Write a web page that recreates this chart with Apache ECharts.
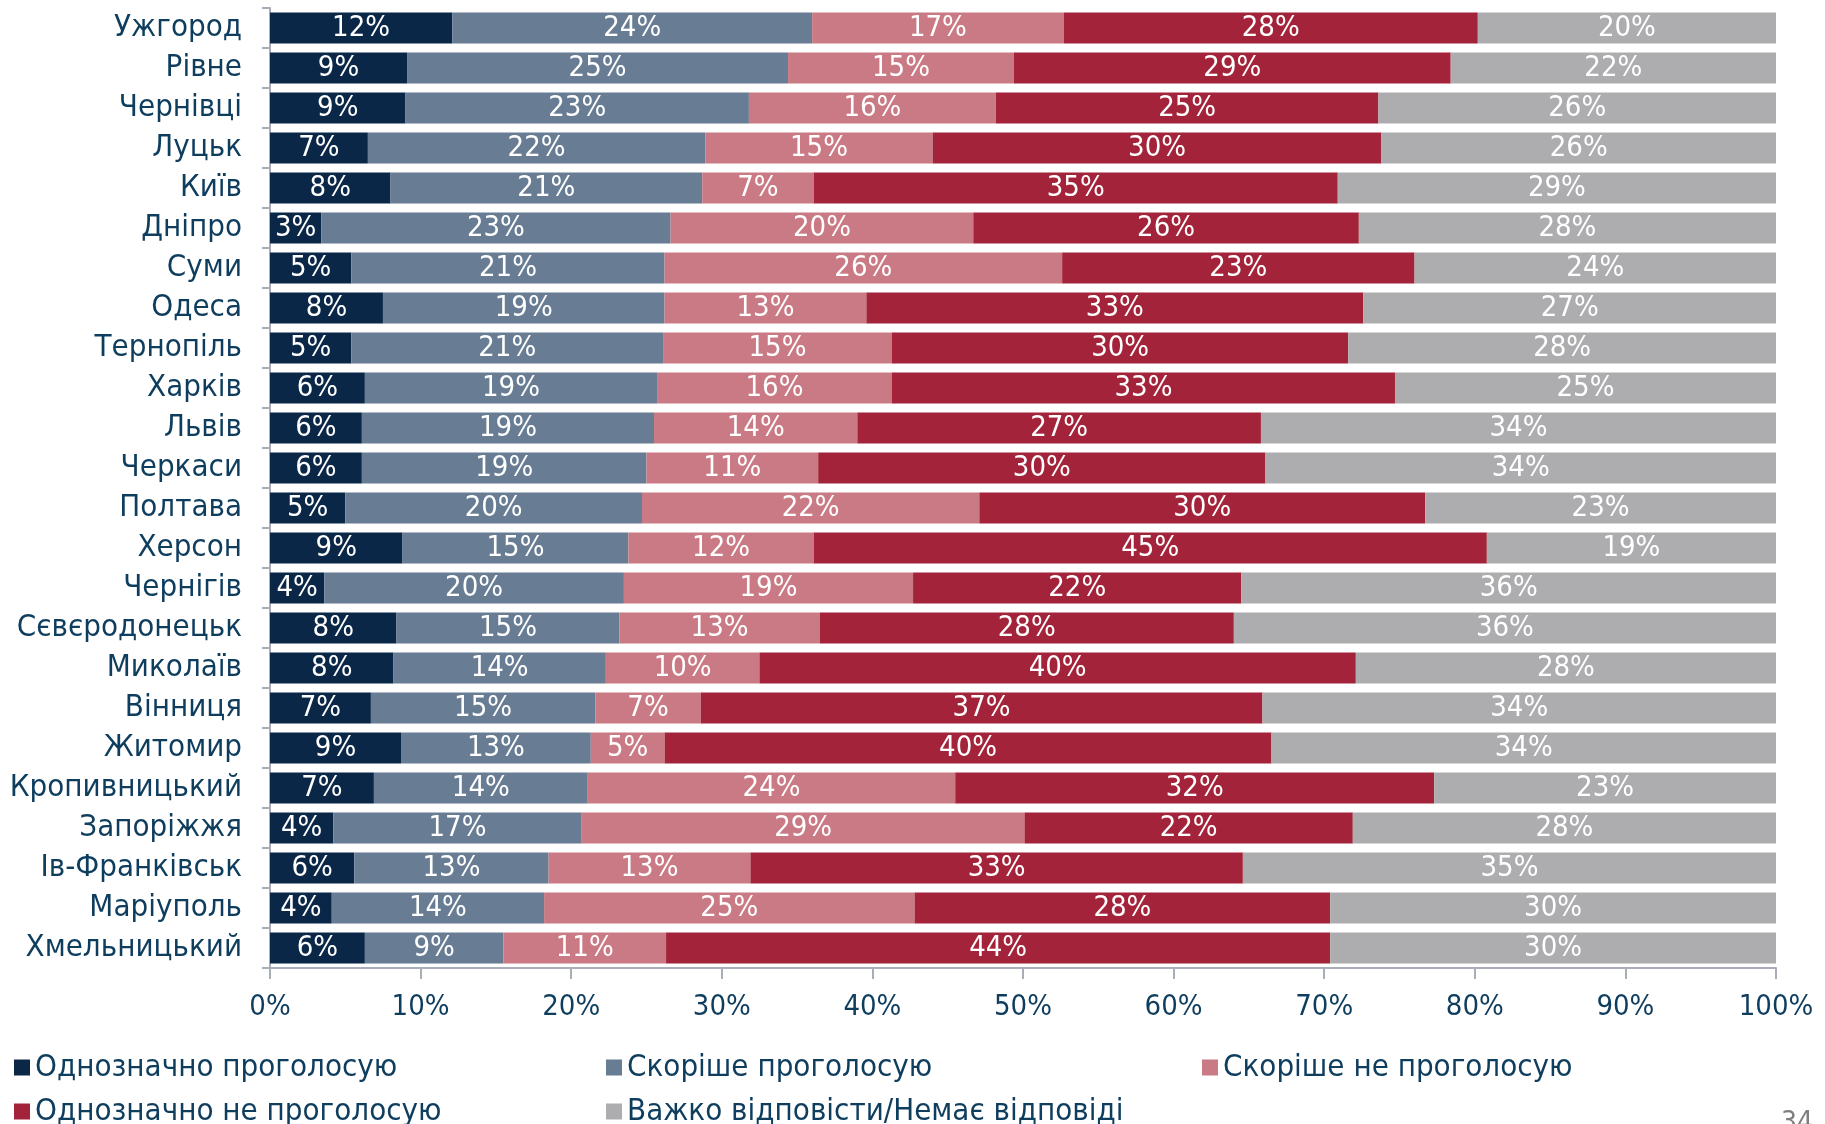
<!DOCTYPE html>
<html>
<head>
<meta charset="utf-8">
<script src="https://cdn.jsdelivr.net/npm/echarts@6/dist/echarts.min.js"></script>
<style>
html, body { margin: 0; padding: 0; background: #fff; }
#chart1 { width: 1825px; height: 1124px; }
</style>
</head>
<body>
<div id="chart1"></div>
<script>
var cities = ['Ужгород', 'Рівне', 'Чернівці', 'Луцьк', 'Київ', 'Дніпро', 'Суми', 'Одеса', 'Тернопіль', 'Харків', 'Львів', 'Черкаси', 'Полтава', 'Херсон', 'Чернігів', 'Сєвєродонецьк', 'Миколаїв', 'Вінниця', 'Житомир', 'Кропивницький', 'Запоріжжя', 'Ів-Франківськ', 'Маріуполь', 'Хмельницький'];

var seriesNames = ['Однозначно проголосую', 'Скоріше проголосую', 'Скоріше не проголосую', 'Однозначно не проголосую', 'Важко відповісти/Немає відповіді'];

var definitelyYes = [12.1, 9.1, 9.0, 6.5, 8.0, 3.4, 5.4, 7.5, 5.4, 6.3, 6.1, 6.1, 5.0, 8.8, 3.6, 8.4, 8.2, 6.7, 8.7, 6.9, 4.2, 5.6, 4.1, 6.3];
var ratherYes = [23.9, 25.3, 22.8, 22.4, 20.7, 23.2, 20.8, 18.7, 20.7, 19.4, 19.4, 18.9, 19.7, 15.0, 19.9, 14.8, 14.1, 14.9, 12.6, 14.2, 16.5, 12.9, 14.1, 9.2];
var ratherNo = [16.7, 15.0, 16.4, 15.1, 7.4, 20.1, 26.4, 13.4, 15.2, 15.6, 13.5, 11.4, 22.4, 12.3, 19.2, 13.3, 10.2, 7.0, 4.9, 24.4, 29.4, 13.4, 24.6, 10.8];
var definitelyNo = [27.5, 29.0, 25.4, 29.8, 34.8, 25.6, 23.4, 33.0, 30.3, 33.4, 26.8, 29.7, 29.6, 44.7, 21.8, 27.5, 39.6, 37.3, 40.3, 31.8, 21.8, 32.7, 27.6, 44.1];
var hardToSay = [19.8, 21.6, 26.4, 26.2, 29.1, 27.7, 24.0, 27.4, 28.4, 25.3, 34.2, 33.9, 23.3, 19.2, 35.5, 36.0, 27.9, 34.1, 33.5, 22.7, 28.1, 35.4, 29.6, 29.6];

var xTicks = [0, 10, 20, 30, 40, 50, 60, 70, 80, 90, 100];

var colors = ['#0b2748', '#687d93', '#c97a84', '#a3243a', '#adadaf'];
var textColor = '#0e3d5e';
var font = 'DejaVu Sans Condensed';

var allValues = [definitelyYes, ratherYes, ratherNo, definitelyNo, hardToSay];

var series = [];
for (var i = 0; i < seriesNames.length; i++) {
	series.push({
		name: seriesNames[i],
		type: 'bar',
		stack: 'total',
		barCategoryGap: '22%',
		data: allValues[i],
		itemStyle: { color: colors[i] },
		label: {
			show: true,
			position: 'inside',
			color: '#fff',
			fontFamily: font,
			fontSize: 29,
			formatter: function (p) { return Math.round(p.value) + '%'; }
		},
		emphasis: { disabled: true }
	});
}

// legend laid out as 3 columns x 2 rows, one legend per item
var legendSpots = [[9, 1047], [601, 1047], [1197, 1047], [9, 1091], [601, 1091]];
var legends = [];
for (var j = 0; j < seriesNames.length; j++) {
	legends.push({
		left: legendSpots[j][0],
		top: legendSpots[j][1],
		itemWidth: 16,
		itemHeight: 16,
		itemGap: 0,
		selectedMode: false,
		icon: 'rect',
		textStyle: { color: textColor, fontFamily: font, fontSize: 31, padding: [0, 0, 0, 0] },
		data: [seriesNames[j]]
	});
}

var option = {
	animation: false,
	color: colors,
	grid: { left: 270, right: 49, top: 8, bottom: 156 },
	legend: legends,
	xAxis: {
		type: 'value',
		min: xTicks[0],
		max: xTicks[xTicks.length - 1],
		interval: 10,
		axisLine: { show: true, lineStyle: { color: '#a8adb7', width: 2 } },
		axisTick: { show: true, length: 11, lineStyle: { color: '#a8adb7', width: 2 } },
		splitLine: { show: false },
		axisLabel: { formatter: '{value}%', color: textColor, fontFamily: font, fontSize: 29, margin: 25 }
	},
	yAxis: {
		type: 'category',
		inverse: true,
		data: cities,
		axisLine: { show: true, lineStyle: { color: '#a8adb7', width: 2 } },
		axisTick: { show: true, length: 8, lineStyle: { color: '#a8adb7', width: 2 } },
		axisLabel: { interval: 0, color: textColor, fontFamily: font, fontSize: 31, margin: 28 }
	},
	graphic: [{
		type: 'text',
		left: 1781,
		top: 1110,
		style: { text: '34', fill: '#7f7f7f', font: '28px "DejaVu Sans Condensed"' }
	}],
	series: series
};

var chart1 = echarts.init(document.getElementById('chart1'));
chart1.setOption(option);
</script>
</body>
</html>
